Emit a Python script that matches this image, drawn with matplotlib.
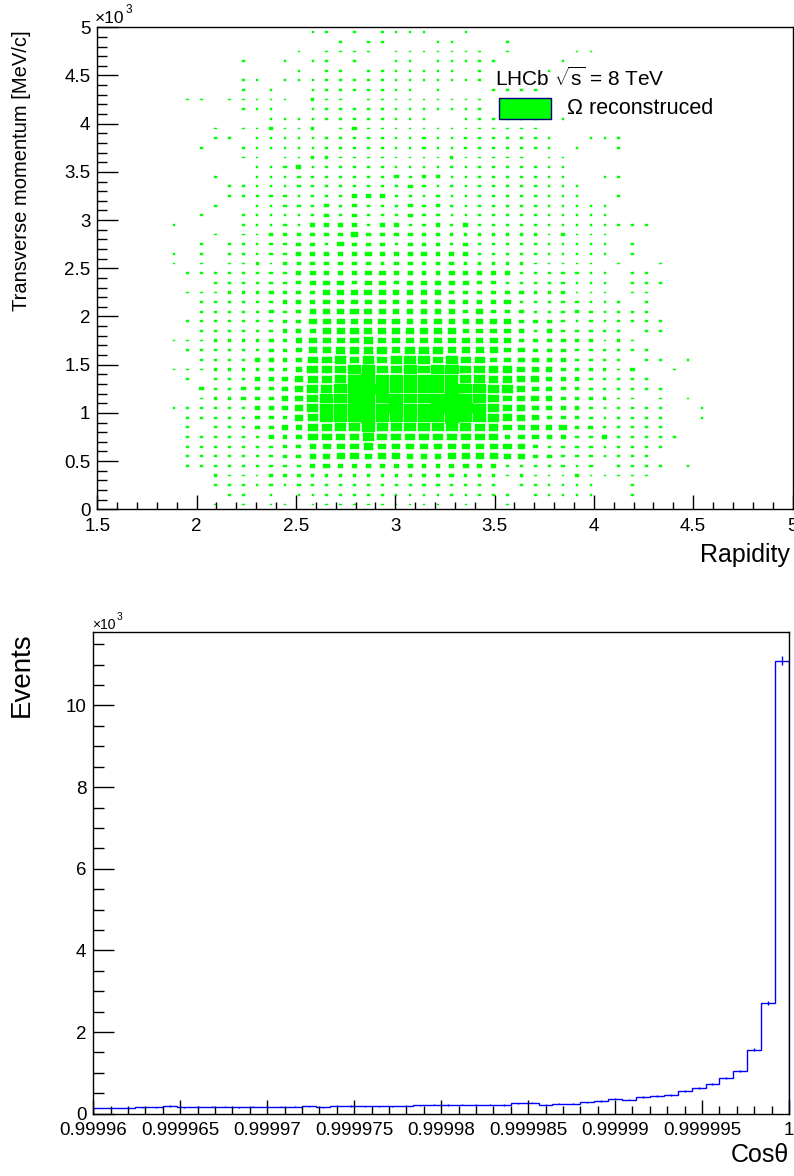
import numpy as np
import matplotlib.pyplot as plt
from matplotlib.patches import Rectangle
from matplotlib.collections import PatchCollection
from matplotlib.ticker import FixedLocator, MultipleLocator

plt.rcParams['font.family'] = ['Liberation Sans', 'DejaVu Sans']
plt.rcParams['mathtext.fontset'] = 'custom'
plt.rcParams['mathtext.rm'] = 'Liberation Sans'
plt.rcParams['mathtext.it'] = 'Liberation Sans:italic'

# --- top: rapidity vs transverse momentum, 50x50 bins, read off as box size levels
# level 1 = smallest box, 9 = box filling the whole bin; '.' = empty bin
rap_min, rap_max, rap_bin = 1.5, 5.0, 0.07
pt_min, pt_max, pt_bin = 0, 5000, 100
first_col = 5  # first rapidity bin that appears in the strings below

# rows from the top (pt 4900-5000) down to the bottom (pt 0-100)
box_rows = [
    "..........11.1.1111." + ".1..................",
    "............1.11...1" + "1...1...............",
    ".........1.1111.1111" + "111.1....11.........",
    ".....1..1.11.1..11.1" + "1111....1...........",
    ".........1.11.111111" + "1.1....1............",
    ".....11.111121211111" + "111.................",
    ".....1.1..11111111.1" + "...1111.............",
    ".11.11111.211.111111" + "111.................",
    ".....111..1111111111" + "111.................",
    ".......111111112111." + ".111111.1...........",
    "...1.112112.13111111" + "1111111.............",
    "...11.11111111111121" + "12111121..111.......",
    "..1..111111112211121" + "12111111.1..1.......",
    ".....11.112211111111" + "211111.11...........",
    "......11231111111111" + "211111111...........",
    "...1..11122122113233" + "111111111..11.......",
    "....2111122222222321" + "2122111111..........",
    "....1222212223332212" + "1111111111..1.......",
    "...1..11222323222323" + "211112111111........",
    "..1..111112323222322" + "111111111111........",
    "1....111213333233223" + "232221111111111.....",
    "...1.112223334333333" + "222222212111........",
    "..1.2112233243332333" + "232221111111.1......",
    "1.1.1112233333433343" + "332222111111.1......",
    "1.1.1121323333323333" + "32222211111.1..1....",
    ".1112222234333443333" + "433332222211.11.....",
    "...12222234443443444" + "443322222111.111....",
    ".1112223333444544444" + "333333222111.11.....",
    "..112122333444444444" + "4333422222111.1.....",
    "..112123234445544444" + "434333222321111.....",
    ".1112222335554555445" + "4444433321211111....",
    "..122222334555555555" + "5444432322221.11....",
    "11122223345555655555" + "55454333332121......",
    ".1122223345566665666" + "555544333222111.....",
    "..112233346676767776" + "7664444332222.11.1..",
    "11122223347678877878" + "97766544332213..1...",
    ".1.22233456678988888" + "877665543322222.....",
    "..322333457789998888" + "9887754433221111....",
    "..122333457889989889" + "98875554332211.1.1..",
    "11122233457889989889" + "9987654433211111..1.",
    ".1112233356888988888" + "9887654333211111..1.",
    ".1.22233446677877777" + "7766545453321211....",
    ".1122223346666766666" + "66663443322321111...",
    ".2122222334555655555" + "5555543222211111....",
    ".1112222334455455444" + "555544332221111.....",
    ".1111222223433333333" + "34332222212.1111.1..",
    "...21112222222222222" + "322212111211111.....",
    "...11112122222222222" + "2222.111111..1......",
    "....11.1.11111121111" + "21112.11111..1......",
    "...1.1.11.1111111111" + ".1..1...............",
]

# --- bottom: cos(theta) histogram, 50 bins from 0.99996 to 1
cos_min, cos_max, cos_nbins = 0.99996, 1.0, 50
events = [140, 140, 150, 155, 160, 190, 160, 165, 165, 165,
          160, 175, 170, 170, 170, 185, 160, 200, 190, 185,
          180, 180, 200, 210, 220, 213, 221, 213, 221, 213,
          254, 270, 213, 245, 245, 279, 311, 368, 343, 417,
          426, 458, 556, 637, 720, 868, 1047, 1570, 2720, 11100]

x_tick_labels = ["0.99996", "0.999965", "0.99997", "0.999975", "0.99998",
                 "0.999985", "0.99999", "0.999995", "1"]

green = '#00ff00'
W, H = 794, 1176

fig = plt.figure(figsize=(W / 100, H / 100), dpi=100)

# ---------------- top pad ----------------
ax1 = fig.add_axes([97.3 / W, 1 - 509.3 / H, (792.5 - 97.3) / W, (509.3 - 27.3) / H])

boxes = []
n_rows = len(box_rows)
for r, row in enumerate(box_rows):
    j = n_rows - 1 - r
    for p, ch in enumerate(row):
        if ch == '.':
            continue
        frac = min(1.0, int(ch) / 8.6)
        i = first_col + p
        xc = rap_min + (i + 0.5) * rap_bin
        yc = pt_min + (j + 0.5) * pt_bin
        # tiny boxes are still drawn about 2 px wide by ROOT
        w = max(frac * rap_bin, 0.0125)
        h = max(frac * pt_bin, 18)
        boxes.append(Rectangle((xc - w / 2, yc - h / 2), w, h))

ax1.add_collection(PatchCollection(boxes, facecolor=green, edgecolor=green, linewidth=0.3))
ax1.set_xlim(rap_min, rap_max)
ax1.set_ylim(pt_min, pt_max)

ax1.xaxis.set_minor_locator(MultipleLocator(0.1))
ax1.yaxis.set_minor_locator(MultipleLocator(100))
ax1.set_xticks(np.arange(1.5, 5.01, 0.5))
ax1.set_xticklabels(['1.5', '2', '2.5', '3', '3.5', '4', '4.5', '5'])
ax1.set_yticks(np.arange(0, 5001, 500))
ax1.set_yticklabels(['0', '0.5', '1', '1.5', '2', '2.5', '3', '3.5', '4', '4.5', '5'])
ax1.tick_params(axis='x', which='major', direction='in', length=10, width=1, labelsize=13.5, pad=6, top=False)
ax1.tick_params(axis='x', which='minor', direction='in', length=5, width=1, top=False)
ax1.tick_params(axis='y', which='major', direction='in', length=15, width=1, labelsize=13.5, pad=5, right=False)
ax1.tick_params(axis='y', which='minor', direction='in', length=7.5, width=1, right=False)
for s in ax1.spines.values():
    s.set_linewidth(1.0)

fig.text(95 / W, 1 - 23 / H, '\u00d710', fontsize=12.5, ha='left', va='baseline')
fig.text(126 / W, 1 - 13 / H, '3', fontsize=8.5, ha='left', va='baseline')
fig.text(22 / W, 1 - 30 / H, 'Transverse momentum [MeV/c]', fontsize=14.5, rotation=90, ha='center', va='top')
fig.text(790 / W, 1 - 555 / H, 'Rapidity', fontsize=18, ha='right', va='center')

# legend
fig.text(495 / W, 1 - 78 / H, r'LHCb $\mathregular{\sqrt{s}}$ = 8 TeV', fontsize=15, ha='left', va='center')
fig.patches.append(Rectangle((499 / W, 1 - 119 / H), 52 / W, 21 / H, transform=fig.transFigure,
                             facecolor=green, edgecolor='#000080', linewidth=1.0))
fig.text(567 / W, 1 - 108 / H, '\u03a9 reconstruced', fontsize=15.5, ha='left', va='center')

# ---------------- bottom pad ----------------
ax2 = fig.add_axes([93.3 / W, 1 - 1113.7 / H, (789 - 93.3) / W, (1113.7 - 632) / H])

edges = np.linspace(cos_min, cos_max, cos_nbins + 1)
centres = 0.5 * (edges[:-1] + edges[1:])
vals = np.array(events, dtype=float)
ax2.stairs(vals, edges, color='#0000ff', linewidth=1.0)
ax2.errorbar(centres, vals, yerr=np.sqrt(vals), fmt='none', ecolor='#0000ff', elinewidth=1.0)

ax2.set_xlim(cos_min, cos_max)
ax2.set_ylim(0, 11800)
major_x = cos_min + 5e-6 * np.arange(len(x_tick_labels))
ax2.xaxis.set_major_locator(FixedLocator(major_x))
ax2.xaxis.set_minor_locator(FixedLocator(cos_min + 1e-6 * np.arange(41)))
ax2.set_xticklabels(x_tick_labels)
ax2.set_yticks(np.arange(0, 10001, 2000))
ax2.set_yticklabels(['0', '2', '4', '6', '8', '10'])
ax2.yaxis.set_minor_locator(MultipleLocator(500))
ax2.tick_params(axis='x', which='major', direction='in', length=10, width=1, labelsize=13.5, pad=6, top=False)
ax2.tick_params(axis='x', which='minor', direction='in', length=5.5, width=1, top=False)
ax2.tick_params(axis='y', which='major', direction='in', length=15, width=1, labelsize=13.5, pad=5, right=False)
ax2.tick_params(axis='y', which='minor', direction='in', length=7.7, width=1, right=False)
for s in ax2.spines.values():
    s.set_linewidth(1.0)

fig.text(92 / W, 1 - 629 / H, '\u00d710', fontsize=10, ha='left', va='baseline')
fig.text(117 / W, 1 - 620 / H, '3', fontsize=7.5, ha='left', va='baseline')
fig.text(22 / W, 1 - 632 / H, 'Events', fontsize=20, rotation=90, ha='center', va='top')
fig.text(789 / W, 1 - 1155 / H, 'Cos\u03b8', fontsize=18, ha='right', va='center')

fig.savefig('out.png', dpi=100)
